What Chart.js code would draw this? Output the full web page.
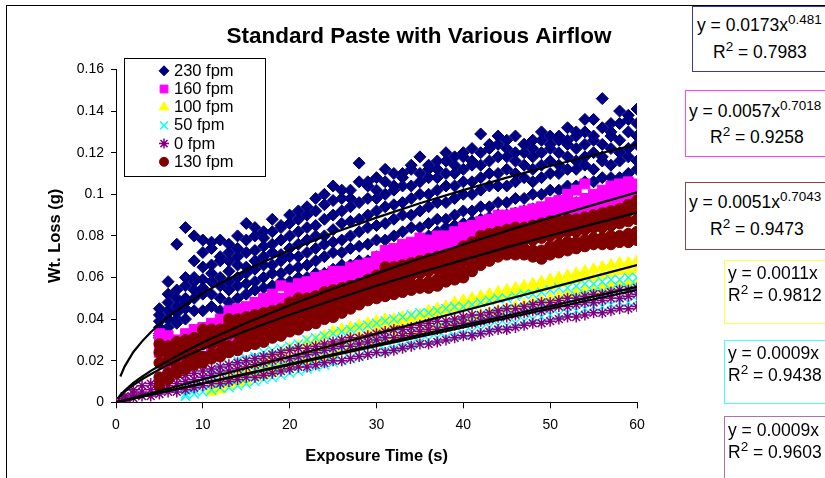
<!DOCTYPE html>
<html><head><meta charset="utf-8">
<script src="https://cdn.jsdelivr.net/npm/chart.js@4/dist/chart.umd.min.js"></script>
<style>
html,body{margin:0;padding:0;background:#fff;width:825px;height:478px;overflow:hidden;}
#wrap{position:relative;width:825px;height:478px;overflow:hidden;}
canvas{position:absolute;left:0;top:0;}
.eq{position:absolute;box-sizing:border-box;background:#fff;border:1px solid;width:220px;font-family:"Liberation Sans",Arial,sans-serif;font-size:17.5px;color:#000;white-space:nowrap;}
.eq div{position:absolute;line-height:20px;height:20px;}
.eq sup{font-size:13.5px;vertical-align:0;position:relative;top:-7px;line-height:0;}
</style></head>
<body><div id="wrap"><canvas id="c" width="825" height="478"></canvas>
<div class="eq" style="left:692px;top:6px;height:66px;border-color:#3A3A9E"><div style="top:8px;left:4px">y = 0.0173x<sup>0.481</sup></div><div style="top:35px;left:20px">R<sup>2</sup> = 0.7983</div></div>
<div class="eq" style="left:685px;top:90px;height:67px;border-color:#FF44FF"><div style="top:10px;left:3px">y = 0.0057x<sup>0.7018</sup></div><div style="top:36px;left:24px">R<sup>2</sup> = 0.9258</div></div>
<div class="eq" style="left:685px;top:182px;height:68px;border-color:#8E4444"><div style="top:9px;left:3px">y = 0.0051x<sup>0.7043</sup></div><div style="top:36px;left:24px">R<sup>2</sup> = 0.9473</div></div>
<div class="eq" style="left:724px;top:260px;height:64px;border-color:#FFFF44"><div style="top:2px;left:3px">y = 0.0011x</div><div style="top:24px;left:3px">R<sup>2</sup> = 0.9812</div></div>
<div class="eq" style="left:724px;top:340px;height:64px;border-color:#44FFFF"><div style="top:2px;left:3px">y = 0.0009x</div><div style="top:24px;left:3px">R<sup>2</sup> = 0.9438</div></div>
<div class="eq" style="left:724px;top:416px;height:100px;border-color:#B070B0"><div style="top:3px;left:3px">y = 0.0009x</div><div style="top:25px;left:3px">R<sup>2</sup> = 0.9603</div></div>
</div>
<script>
// ---------------- DATA ----------------
const TIME_0_60 = [0,1,2,3,4,5,6,7,8,9,10,11,12,13,14,15,16,17,18,19,20,21,22,23,24,25,26,27,28,29,30,31,32,33,34,35,36,37,38,39,40,41,42,43,44,45,46,47,48,49,50,51,52,53,54,55,56,57,58,59,60];
const TIME_5_60 = TIME_0_60.slice(5);
const TIME_8_60 = TIME_0_60.slice(8);
const TIME_11_60 = TIME_0_60.slice(11);

const SERIES_NAMES = ['230 fpm','160 fpm','100 fpm','50 fpm','0 fpm','130 fpm'];

// 230 fpm (t = 5..60), several runs
const fpm230 = [
 [.045,.058,.076,.084,.080,.078,.077,.078, .076,.080,.086,.084,.082,.088,.085,.090, .092,.094,.098,.100,.104,.102,.098,.115, .106,.108,.112,.104,.110,.114,.118,.112, .116,.120,.118,.120,.122,.129,.124,.128, .126,.128,.124,.126,.130,.128,.126,.132, .130,.136,.136,.146,.134,.140,.138,.141],
 [.042,.052,.054,.060,.068,.072,.074,.070, .072,.074,.078,.080,.079,.082,.084,.086, .088,.090,.092,.095,.097,.098,.102,.106, .104,.102,.106,.110,.108,.112,.110,.114, .112,.116,.114,.118,.116,.120,.122,.124, .122,.120,.124,.122,.126,.124,.128,.126, .128,.130,.128,.132,.130,.134,.136,.134],
 [.039,.048,.050,.056,.060,.065,.066,.068, .068,.070,.072,.073,.075,.076,.078,.080, .082,.084,.085,.088,.090,.092,.094,.096, .098,.098,.100,.102,.104,.104,.106,.108, .108,.110,.110,.112,.114,.114,.116,.118, .118,.116,.120,.118,.120,.122,.120,.124, .122,.124,.126,.124,.128,.126,.130,.128],
 [.036,.044,.046,.050,.058,.059,.062,.060, .063,.066,.065,.068,.070,.072,.071,.074, .076,.078,.080,.080,.083,.086,.087,.088, .090,.092,.094,.095,.096,.098,.100,.100, .102,.104,.104,.106,.106,.108,.110,.110, .112,.110,.114,.112,.114,.116,.114,.118, .116,.118,.120,.118,.122,.120,.122,.124],
 [.033,.040,.043,.048,.054,.055,.058,.056, .058,.060,.062,.064,.066,.066,.068,.070, .070,.072,.074,.076,.077,.078,.080,.082, .084,.085,.086,.088,.090,.090,.092,.094, .096,.096,.098,.100,.100,.102,.104,.104, .104,.106,.108,.106,.108,.110,.110,.112, .112,.114,.112,.116,.114,.116,.118,.116],
 [.032,.036,.040,.045,.050,.052,.052,.050, .054,.056,.057,.058,.060,.062,.062,.064, .065,.066,.068,.070,.072,.072,.074,.075, .076,.078,.078,.080,.082,.084,.084,.086, .088,.088,.090,.092,.092,.094,.094,.096, .096,.098,.098,.100,.100,.102,.102,.104, .104,.106,.106,.108,.108,.108,.110,.112],
 [.031,.027,.038,.040,.044,.044,.046,.044, .048,.050,.052,.054,.055,.056,.058,.058, .060,.060,.062,.062,.064,.066,.066,.068, .068,.070,.072,.072,.074,.076,.078,.080, .082,.084,.085,.086,.087,.088,.089,.090, .090,.091,.092,.093,.093,.094,.095,.096, .096,.097,.098,.098,.099,.100,.100,.100]
];

// 160 fpm (t = 5..60)
const fpm160 = [
 [.033,.032,.030,.033,.035,.036,.038,.040, .044,.045,.046,.048,.050,.052,.056,.055, .057,.058,.060,.061,.063,.063,.065,.066, .067,.070,.073,.074,.076,.077,.079,.078, .080,.080,.082,.084,.085,.087,.088,.090, .090,.091,.092,.093,.094,.096,.097,.100, .102,.105,.100,.102,.104,.105,.106,.105],
 [.029,.028,.027,.030,.031,.033,.034,.036, .039,.040,.042,.044,.046,.048,.050,.051, .053,.054,.056,.057,.058,.060,.061,.063, .064,.066,.068,.070,.071,.072,.074,.075, .076,.077,.078,.080,.081,.083,.084,.085, .086,.087,.088,.090,.091,.092,.093,.095, .096,.098,.098,.100,.100,.102,.103,.104],
 [.024,.022,.024,.025,.027,.029,.031,.032, .034,.036,.038,.040,.042,.043,.045,.047, .048,.050,.051,.053,.054,.056,.057,.058, .060,.061,.063,.064,.066,.067,.069,.070, .071,.073,.074,.076,.077,.078,.080,.081, .082,.083,.085,.086,.087,.088,.090,.091, .092,.093,.095,.096,.097,.098,.099,.100],
 [.011,.015,.018,.019,.020,.022,.024,.026, .028,.030,.032,.034,.036,.038,.040,.042, .043,.045,.046,.048,.049,.051,.052,.054, .055,.057,.058,.060,.061,.063,.064,.065, .067,.068,.070,.071,.072,.074,.075,.076, .078,.079,.080,.081,.083,.084,.085,.086, .087,.088,.090,.091,.092,.093,.094,.095]
];

// 100 fpm (t = 11..60)
const fpm100 = [
 [.007,.010,.012,.014,.016,.018,.020,.022,.024,.026, .027,.029,.030,.032,.034,.035,.036,.037,.038,.039, .040,.040,.041,.041,.042,.044,.045,.046,.048,.049, .050,.051,.052,.053,.054,.055,.056,.057,.058,.059, .060,.061,.062,.063,.064,.065,.066,.067,.067,.068],
 [.006,.008,.010,.011,.013,.014,.016,.018,.019,.021, .022,.024,.025,.027,.028,.029,.031,.032,.033,.035, .036,.037,.038,.039,.041,.042,.043,.044,.045,.046, .047,.048,.049,.050,.051,.052,.053,.054,.055,.056, .057,.058,.059,.060,.060,.061,.062,.063,.063,.064],
 [.005,.006,.008,.009,.010,.012,.013,.014,.016,.017, .018,.020,.021,.022,.023,.025,.026,.027,.028,.029, .030,.032,.033,.034,.035,.036,.037,.038,.039,.040, .041,.042,.043,.044,.045,.046,.047,.048,.049,.050, .051,.052,.053,.054,.054,.055,.056,.057,.057,.058]
];

// 50 fpm (t = 8..60)
const fpm50 = [
 [.006,.009,.012,.014,.016,.018,.020,.021,.022,.024, .025,.026,.027,.028,.030,.031,.032,.033,.034,.035, .036,.037,.038,.039,.040,.041,.042,.043,.043,.044, .045,.046,.046,.047,.048,.049,.050,.050,.051,.052, .052,.053,.054,.055,.055,.056,.057,.057,.058,.059, .059,.060,.060],
 [.004,.006,.008,.009,.010,.011,.012,.013,.015,.016, .017,.018,.019,.020,.021,.022,.023,.024,.025,.026, .027,.028,.029,.030,.031,.032,.033,.034,.035,.036, .037,.038,.039,.040,.041,.042,.043,.044,.045,.045, .046,.047,.048,.049,.050,.051,.052,.053,.053,.054, .055,.055,.056],
 [.003,.004,.005,.006,.007,.007,.008,.009,.010,.011, .012,.013,.014,.015,.016,.017,.018,.019,.020,.021, .022,.023,.024,.025,.026,.027,.028,.029,.030,.031, .031,.032,.033,.034,.035,.036,.037,.037,.038,.039, .040,.041,.042,.042,.043,.044,.045,.046,.046,.047, .048,.048,.049]
];

// 0 fpm (t = 0..60)
const fpm0 = [
 [0,.003,.006,.008,.009,.010,.011,.012,.013,.014, .015,.016,.017,.018,.019,.020,.021,.022,.023,.024, .025,.026,.026,.027,.028,.029,.030,.031,.031,.032, .033,.034,.035,.035,.036,.037,.038,.039,.039,.040, .041,.042,.042,.043,.044,.045,.045,.046,.047,.048, .048,.049,.050,.050,.051,.052,.052,.053,.054,.054, .055],
 [0,.002,.004,.005,.006,.007,.008,.009,.010,.011, .012,.013,.014,.015,.016,.017,.018,.019,.020,.021, .021,.022,.023,.024,.025,.026,.027,.027,.028,.029, .030,.031,.031,.032,.033,.034,.035,.035,.036,.037, .038,.038,.039,.040,.041,.041,.042,.043,.044,.044, .045,.046,.046,.047,.048,.048,.049,.050,.050,.051, .052],
 [0,.001,.002,.003,.003,.004,.005,.005,.006,.007, .008,.009,.009,.010,.011,.012,.012,.013,.014,.015, .016,.017,.017,.018,.019,.020,.020,.021,.022,.023, .024,.024,.025,.026,.027,.028,.028,.029,.030,.031, .032,.032,.033,.034,.035,.035,.036,.037,.038,.038, .039,.040,.041,.041,.042,.043,.043,.044,.045,.045, .046]
];

// 130 fpm (t = 5..60)
const fpm130 = [
 [.028,.027,.029,.030,.031,.035,.035,.035, .040,.040,.041,.042,.043,.044,.045,.048, .050,.050,.051,.053,.054,.055,.056,.057, .059,.061,.065,.065,.066,.067,.068,.069, .070,.071,.072,.075,.077,.080,.081,.082, .083,.084,.084,.085,.086,.087,.087,.088, .088,.089,.090,.091,.092,.093,.095,.097],
 [.024,.024,.026,.027,.028,.032,.032,.033, .037,.037,.038,.039,.040,.041,.043,.045, .047,.047,.049,.050,.051,.053,.054,.055, .057,.059,.062,.062,.063,.064,.065,.066, .067,.068,.069,.072,.074,.077,.078,.079, .080,.081,.081,.082,.083,.084,.084,.085, .085,.086,.087,.088,.089,.090,.092,.093],
 [.019,.020,.022,.023,.024,.028,.028,.029, .033,.033,.034,.035,.036,.038,.039,.041, .043,.044,.045,.046,.048,.049,.051,.052, .054,.056,.058,.059,.060,.061,.062,.063, .064,.065,.066,.068,.071,.073,.074,.076, .077,.077,.078,.078,.079,.080,.081,.082, .082,.083,.084,.084,.085,.086,.087,.088],
 [.012,.014,.017,.018,.020,.022,.023,.024, .027,.028,.030,.031,.032,.033,.035,.037, .038,.040,.041,.042,.044,.046,.047,.049, .051,.053,.054,.055,.056,.057,.057,.058, .059,.061,.062,.063,.066,.069,.071,.073, .074,.074,.074,.073,.073,.075,.076,.077, .077,.078,.079,.079,.080,.080,.081,.082],
 [.008,.011,.014,.016,.018,.019,.021,.022, .024,.025,.027,.028,.029,.031,.032,.034, .035,.037,.038,.040,.041,.043,.045,.047, .049,.050,.051,.052,.053,.054,.055,.055, .056,.058,.059,.060,.063,.066,.068,.070, .071,.071,.071,.070,.069,.071,.072,.073, .074,.075,.076,.076,.076,.077,.077,.078]
];

// Trend lines
const TREND_230_X = [0.5,1,2,3,4,5,6,8,10,12,15,20,25,30,35,40,45,50,55,60];
const TREND_230_Y = [.0124,.0173,.0242,.0293,.0337,.0375,.0410,.0470,.0524,.0572,.0637,.0731,.0814,.0888,.0957,.1020,.1080,.1136,.1189,.1240];
const TREND_POW_X = [0.2,0.5,1,2,3,4,5,6,8,10,12,15,20,25,30,35,40,45,50,55,60];
const TREND_160_Y = [.0018,.0035,.0057,.0093,.0123,.0151,.0176,.0200,.0245,.0287,.0326,.0381,.0467,.0546,.0620,.0691,.0759,.0824,.0888,.0949,.1009];
const TREND_130_Y = [.0016,.0031,.0051,.0083,.0111,.0135,.0158,.0180,.0221,.0258,.0294,.0344,.0421,.0492,.0560,.0624,.0685,.0745,.0802,.0858,.0912];
const TREND_LIN_X = [0,60];
const TREND_100_Y = [0,.066];
const TREND_50_Y = [0,.054];
const TREND_0_Y = [0,.0555];

const Y_TICKS = [0,0.02,0.04,0.06,0.08,0.1,0.12,0.14,0.16];
const Y_TICK_LABELS = ['0','0.02','0.04','0.06','0.08','0.1','0.12','0.14','0.16'];
const X_TICKS = [0,10,20,30,40,50,60];
const X_TICK_LABELS = ['0','10','20','30','40','50','60'];

const TITLE = 'Standard Paste with Various Airflow';
const X_TITLE = 'Exposure Time (s)';
const Y_TITLE = 'Wt. Loss (g)';

// ---------------- BUILD ----------------
const FONT = '"Liberation Sans", Arial, sans-serif';
const zip = (xs, ys) => ys.map((y, i) => ({x: xs[i], y}));
const runs = (xs, rs) => rs.flatMap(r => zip(xs, r));

const STYLES = [
  {style:'rectRot', r:6, lr:5, bw:1, col:'#000080', order:6},
  {style:'rect', r:7, lr:5.5, bw:1, col:'#FF00FF', order:5},
  {style:'triangle', r:6.5, lr:5.5, bw:1, col:'#FFFF00', order:4},
  {style:'crossRot', r:6.5, lr:5.5, bw:1.4, col:'#00FFFF', order:3},
  {style:'star', r:5.5, lr:5, bw:1.5, col:'#800080', order:2},
  {style:'circle', r:5.5, lr:4.5, bw:1, col:'#800000', order:1}
];
const SERIES_DATA = [
  runs(TIME_5_60, fpm230), runs(TIME_5_60, fpm160), runs(TIME_11_60, fpm100),
  runs(TIME_8_60, fpm50), runs(TIME_0_60, fpm0), runs(TIME_5_60, fpm130)
];

const datasets = SERIES_NAMES.map((name, i) => ({
  label: name, data: SERIES_DATA[i], showLine: false,
  pointStyle: STYLES[i].style, pointRadius: STYLES[i].r,
  pointBackgroundColor: STYLES[i].col, pointBorderColor: STYLES[i].col,
  pointBorderWidth: STYLES[i].bw,
  order: STYLES[i].order
}));
[[TREND_230_X,TREND_230_Y],[TREND_POW_X,TREND_160_Y],[TREND_POW_X,TREND_130_Y],
 [TREND_LIN_X,TREND_100_Y],[TREND_LIN_X,TREND_50_Y],[TREND_LIN_X,TREND_0_Y]].forEach(([xs, ys]) => {
  datasets.push({label:'', trend:true, data: zip(xs, ys), showLine:true, borderColor:'#000',
    borderWidth:2.2, pointRadius:0, fill:false, tension:0, order:0});
});

function drawMarker(ctx, s, x, y) {
  ctx.save();
  ctx.fillStyle = s.col; ctx.strokeStyle = s.col;
  ctx.lineWidth = s.bw;
  if (Chart.helpers && Chart.helpers.drawPoint) {
    Chart.helpers.drawPoint(ctx, {pointStyle: s.style, radius: s.lr, rotation: 0, borderWidth: s.bw}, x, y);
  } else {
    ctx.beginPath(); ctx.arc(x, y, s.lr, 0, Math.PI * 2); ctx.fill();
  }
  ctx.restore();
}

const decor = {
  id: 'decor',
  beforeDraw(chart) {
    const ctx = chart.ctx;
    ctx.save();
    ctx.fillStyle = '#fff'; ctx.fillRect(0, 0, chart.width, chart.height);
    ctx.strokeStyle = '#000'; ctx.lineWidth = 1;
    ctx.strokeRect(6.5, 5.5, 1200, 1200);
    ctx.fillStyle = '#000';
    ctx.font = 'bold 22.5px ' + FONT;
    ctx.textAlign = 'center'; ctx.textBaseline = 'middle';
    ctx.fillText(TITLE, 419, 37);
    ctx.restore();
  },
  afterDraw(chart) {
    const ctx = chart.ctx;
    ctx.save();
    ctx.fillStyle = '#fff';
    ctx.fillRect(124.5, 58.5, 141, 118);
    ctx.strokeStyle = '#000'; ctx.lineWidth = 1;
    ctx.strokeRect(124.5, 58.5, 141, 118);
    ctx.font = '16.5px ' + FONT;
    ctx.textAlign = 'left'; ctx.textBaseline = 'middle';
    chart.data.datasets.forEach((ds, i) => {
      if (ds.trend) return;
      const y = 70.8 + i * 18.2;
      drawMarker(ctx, STYLES[i], 164, y);
      ctx.fillStyle = '#000';
      ctx.fillText(ds.label, 174, y + 0.5);
    });
    ctx.restore();
  }
};

new Chart(document.getElementById('c'), {
  type: 'scatter',
  data: {datasets},
  plugins: [decor],
  options: {
    responsive: false, animation: false, devicePixelRatio: 1, events: [],
    layout: {padding: {left: 46, right: 188, top: 69.5, bottom: 12}},
    plugins: {legend: {display: false}, tooltip: {enabled: false}, title: {display: false}},
    scales: {
      x: {
        type: 'linear', min: 0, max: 60,
        afterBuildTicks: s => { s.ticks = X_TICKS.map(v => ({value: v})); },
        afterFit: s => { s.height = 63.7; },
        ticks: {callback: (v, i) => X_TICK_LABELS[i], font: {family: FONT, size: 14}, color: '#000', padding: 8, maxRotation: 0},
        grid: {display: true, drawOnChartArea: false, drawTicks: true, tickLength: 6, color: '#000'},
        border: {display: true, color: '#000', width: 1},
        title: {display: true, text: X_TITLE, font: {family: FONT, size: 16.5, weight: 'bold'}, color: '#000', padding: 0}
      },
      y: {
        type: 'linear', min: 0, max: 0.16,
        afterBuildTicks: s => { s.ticks = Y_TICKS.map(v => ({value: v})); },
        afterFit: s => { s.width = 70; },
        ticks: {callback: (v, i) => Y_TICK_LABELS[i], font: {family: FONT, size: 14}, color: '#000', padding: 7},
        grid: {display: true, drawOnChartArea: false, drawTicks: true, tickLength: 5, color: '#000'},
        border: {display: true, color: '#000', width: 1},
        title: {display: true, text: Y_TITLE, font: {family: FONT, size: 16.5, weight: 'bold'}, color: '#000', padding: 0}
      }
    }
  }
});
</script>
</body></html>
